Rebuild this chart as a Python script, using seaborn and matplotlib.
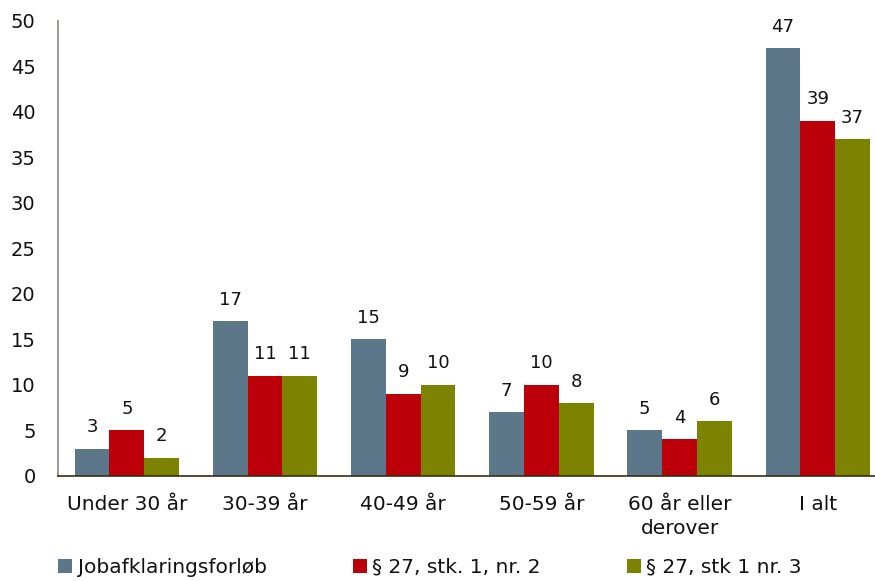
import matplotlib
matplotlib.use("Agg")
import matplotlib.pyplot as plt
import seaborn as sns
import pandas as pd
from matplotlib.patches import Patch

categories = ["Under 30 år", "30-39 år", "40-49 år", "50-59 år", "60 år eller\nderover", "I alt"]
series_names = ["Jobafklaringsforløb", "§ 27, stk. 1, nr. 2", "§ 27, stk 1 nr. 3"]
jobafklaring = [3, 17, 15, 7, 5, 47]
stk1_nr2 = [5, 11, 9, 10, 4, 39]
stk1_nr3 = [2, 11, 10, 8, 6, 37]
yticks = [0, 5, 10, 15, 20, 25, 30, 35, 40, 45, 50]
colors = ["#5b7789", "#bb0009", "#7b8300"]

rows = []
for name, vals in zip(series_names, [jobafklaring, stk1_nr2, stk1_nr3]):
    for c, v in zip(categories, vals):
        rows.append({"Kategori": c, "Serie": name, "Værdi": v})
df = pd.DataFrame(rows)

sns.set_theme(style="white")
plt.rcParams['font.family'] = ['DejaVu Sans']

fig = plt.figure(figsize=(8.75, 5.81), dpi=100)
ax = fig.add_axes([0.066, 0.181, 0.9475, 0.783])
sns.barplot(data=df, x="Kategori", y="Værdi", hue="Serie", palette=colors,
            width=0.755, saturation=1, ax=ax, legend=False,
            edgecolor="none", linewidth=0)

for cont in ax.containers:
    ax.bar_label(cont, padding=9, fontsize=13, color="#111111")

ax.set_ylim(0, 50)
ax.set_yticks(yticks)
ax.set_xlim(-0.5, len(categories) - 0.5)
ax.set_xlabel("")
ax.set_ylabel("")
ax.tick_params(axis="y", length=0, labelsize=14, colors="#111111", pad=16)
ax.tick_params(axis="x", length=0, labelsize=14.5, colors="#111111", pad=14)
for lbl in ax.get_xticklabels():
    lbl.set_linespacing(1.3)
for s in ["top", "right"]:
    ax.spines[s].set_visible(False)
ax.spines["left"].set_color("#8a877c")
ax.spines["left"].set_linewidth(1.2)
ax.spines["bottom"].set_color("#3a2c10")
ax.spines["bottom"].set_linewidth(1.2)

handles = [Patch(facecolor=c, edgecolor="none") for c in colors]
fig.legend(handles, series_names, loc="lower left", bbox_to_anchor=(0.046, -0.024),
           ncol=3, frameon=False, fontsize=14.5, handlelength=0.7, handleheight=0.7,
           handletextpad=0.25, columnspacing=4.3, labelcolor="#111111")

fig.savefig("out.png", dpi=100)
